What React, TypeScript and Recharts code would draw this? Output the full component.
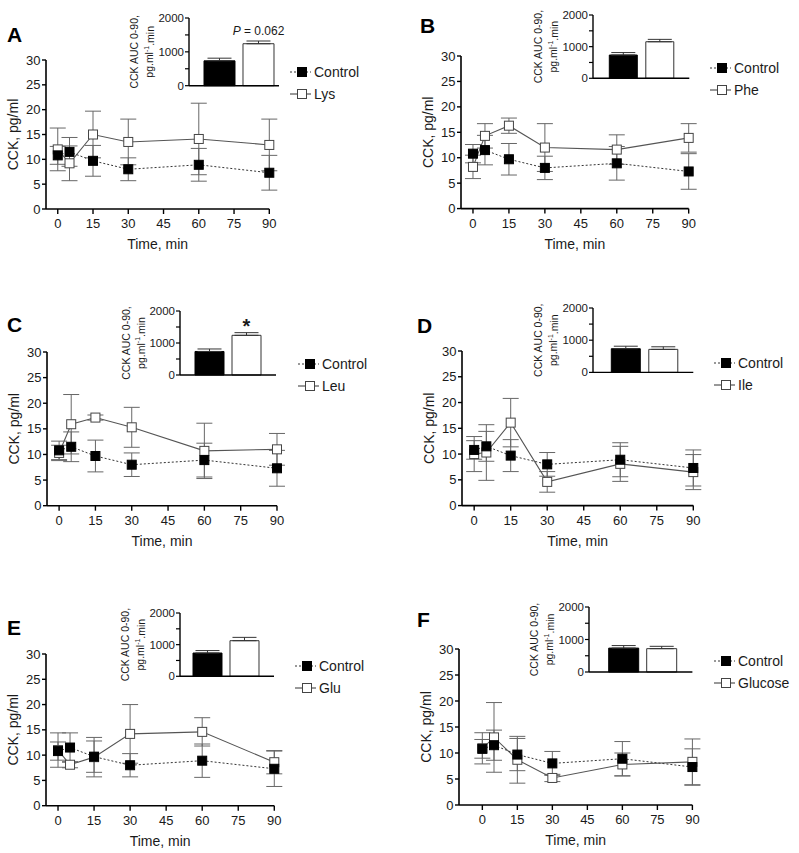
import React from 'react';
import {
  ComposedChart,
  Line,
  XAxis,
  YAxis,
  ErrorBar,
  BarChart,
  Bar,
  Cell,
  LabelList,
  Label,
} from 'recharts';

// plasma CCK time course, pg/ml (mean, SEM)
const TIMES = [0, 5, 15, 30, 60, 90];
const CONTROL = [10.8, 11.5, 9.7, 8.0, 8.9, 7.3];
const CONTROL_SEM = [1.8, 2.9, 3.1, 2.3, 3.3, 3.5];

const LYS = [12.0, 9.2, 15.0, 13.5, 14.1, 12.9];
const LYS_SEM = [4.3, 3.5, 4.7, 4.6, 7.2, 5.2];
const PHE = [8.2, 14.3, 16.3, 12.0, 11.6, 13.9];
const PHE_SEM = [2.3, 2.4, 1.5, 4.7, 2.9, 2.8];
const LEU = [10.3, 15.9, 17.2, 15.3, 10.7, 11.0];
const LEU_SEM = [1.5, 5.8, 0.5, 3.9, 5.4, 3.1];
const ILE = [10.0, 10.3, 16.1, 4.6, 8.1, 6.5];
const ILE_SEM = [3.4, 5.4, 4.7, 2.0, 3.4, 3.4];
const GLU = [11.0, 8.1, 9.6, 14.2, 14.6, 8.6];
const GLU_SEM = [3.4, 0.6, 3.9, 5.8, 2.8, 2.3];
const GLUCOSE = [10.9, 13.0, 8.7, 5.2, 7.8, 8.3];
const GLUCOSE_SEM = [3.0, 6.7, 4.5, 0.7, 2.2, 4.4];

const PANEL_LETTERS = ['A', 'B', 'C', 'D', 'E', 'F'];
const TREATMENTS = ['Lys', 'Phe', 'Leu', 'Ile', 'Glu', 'Glucose'];
const TREAT_VALUES = [LYS, PHE, LEU, ILE, GLU, GLUCOSE];
const TREAT_SEMS = [LYS_SEM, PHE_SEM, LEU_SEM, ILE_SEM, GLU_SEM, GLUCOSE_SEM];

// AUC 0-90 insets
const AUC_CONTROL = 735;
const AUC_CONTROL_SEM = 78;
const AUC_TREAT = [1240, 1155, 1240, 715, 1125, 718];
const AUC_TREAT_SEM = [80, 75, 83, 80, 105, 72];
const AUC_NOTES = ['P = 0.062', '', '*', '', '', ''];

const X_TICKS = [0, 15, 30, 45, 60, 75, 90];
const Y_TICKS = [0, 5, 10, 15, 20, 25, 30];
const AUC_TICKS = [0, 500, 1000, 1500, 2000];

// page layout (px)
const MAIN_BOX = [
  { left: 46, top: 60.3, right: 269.3, bottom: 209.3, xMin: -5 },
  { left: 461, top: 55.7, right: 688.7, bottom: 208.3, xMin: -5 },
  { left: 46.7, top: 352.3, right: 276.7, bottom: 506, xMin: -5 },
  { left: 462, top: 350.7, right: 693.3, bottom: 505.3, xMin: -5 },
  { left: 45.7, top: 654, right: 274, bottom: 805.7, xMin: -5 },
  { left: 459.3, top: 649, right: 692.7, bottom: 805, xMin: -10 },
];
const INSET_BOX = [
  { left: 189, top: 18.3, right: 279, bottom: 86, pl: 11, pr: 1 },
  { left: 592.7, top: 15, right: 689, bottom: 78.3, pl: 12.3, pr: 11 },
  { left: 180, top: 311, right: 276, bottom: 375, pl: 11, pr: 11 },
  { left: 592.7, top: 308.3, right: 693, bottom: 372.7, pl: 14.3, pr: 11 },
  { left: 180, top: 612.7, right: 274, bottom: 676, pl: 9, pr: 11 },
  { left: 589.3, top: 606.7, right: 692.7, bottom: 671.7, pl: 15.7, pr: 11.7 },
];
const LETTER_POS = [
  [7, 42],
  [420, 33],
  [7, 332],
  [417, 333],
  [7, 635],
  [417, 627],
];

const INK = '#1a1a1a';
const FONT = '"Liberation Sans", Arial, Helvetica, sans-serif';

const square = (fill: string, stroke: string) => (p: any) => {
  if (p.cx == null || p.cy == null) return <g key={`e-${p.index}`} />;
  return (
    <rect
      key={`sq-${p.index}`}
      x={p.cx - 4.5}
      y={p.cy - 4.5}
      width={9}
      height={9}
      fill={fill}
      stroke={stroke}
      strokeWidth={1}
    />
  );
};

function TimeCourse({ i }: { i: number }) {
  const b = MAIN_BOX[i];
  const rows = TIMES.map((t, k) => ({
    t,
    ctrl: CONTROL[k],
    ctrlErr: CONTROL_SEM[k],
    trt: TREAT_VALUES[i][k],
    trtErr: TREAT_SEMS[i][k],
  }));
  const YW = 66;
  const MT = 10;
  const MR = 12;
  const MB = 8;
  const XH = 40;
  const w = YW + (b.right - b.left) + MR;
  const h = MT + (b.bottom - b.top) + XH + MB;
  return (
    <div style={{ position: 'absolute', left: b.left - YW, top: b.top - MT }}>
      <ComposedChart width={w} height={h} data={rows} margin={{ top: MT, right: MR, left: 0, bottom: MB }}>
        <XAxis
          dataKey="t"
          type="number"
          domain={[b.xMin, 90]}
          ticks={X_TICKS}
          height={XH}
          tickSize={5}
          tickMargin={5}
          axisLine={{ stroke: '#000', strokeWidth: 1.6 }}
          tickLine={{ stroke: '#000', strokeWidth: 1.4 }}
          tick={{ fill: INK, fontSize: 13 }}
        >
          <Label value="Time, min" position="insideBottom" offset={0} fill={INK} fontSize={14} />
        </XAxis>
        <YAxis
          domain={[0, 30]}
          ticks={Y_TICKS}
          width={YW}
          tickSize={4}
          tickMargin={1.5}
          axisLine={{ stroke: '#000', strokeWidth: 1.6 }}
          tickLine={{ stroke: '#000', strokeWidth: 1.4 }}
          tick={{ fill: INK, fontSize: 13 }}
        >
          <Label value="CCK, pg/ml" angle={-90} position="center" fill={INK} fontSize={14} />
        </YAxis>
        <Line
          dataKey="trt"
          stroke="#555"
          strokeWidth={1.1}
          dot={square('#fff', '#444')}
          activeDot={false}
          isAnimationActive={false}
        >
          <ErrorBar dataKey="trtErr" direction="y" width={8} stroke="#666" strokeWidth={1} />
        </Line>
        <Line
          dataKey="ctrl"
          stroke="#333"
          strokeWidth={1}
          strokeDasharray="2 2"
          dot={square('#000', '#000')}
          activeDot={false}
          isAnimationActive={false}
        >
          <ErrorBar dataKey="ctrlErr" direction="y" width={8} stroke="#666" strokeWidth={1} />
        </Line>
      </ComposedChart>
    </div>
  );
}

function AucAxisLabel(props: any) {
  const vb = props.viewBox || { x: 0, y: 0, width: 0, height: 0 };
  const ax = vb.x + vb.width;
  const cy = vb.y + vb.height / 2;
  const x1 = ax - 54;
  const x2 = ax - 39;
  return (
    <g>
      <text
        x={x1}
        y={cy}
        transform={`rotate(-90 ${x1} ${cy})`}
        textAnchor="middle"
        dominantBaseline="central"
        fontSize={10.5}
        fill={INK}
      >
        CCK AUC 0-90,
      </text>
      <text
        x={x2}
        y={cy}
        transform={`rotate(-90 ${x2} ${cy})`}
        textAnchor="middle"
        dominantBaseline="central"
        fontSize={10.5}
        fill={INK}
      >
        pg.ml
        <tspan dy={-4} fontSize={7}>
          -1
        </tspan>
        <tspan dy={4}>.min</tspan>
      </text>
    </g>
  );
}

function NoteLabel(p: any) {
  if (!p.value) return null;
  const cx = p.x + p.width / 2;
  if (p.value === '*') {
    return (
      <text x={cx} y={p.y - 2} textAnchor="middle" fontSize={20} fontWeight="bold" fill={INK}>
        *
      </text>
    );
  }
  const txt = String(p.value);
  return (
    <text x={cx} y={p.y - 9} textAnchor="middle" fontSize={12} fill={INK}>
      <tspan fontStyle="italic">{txt.slice(0, 1)}</tspan>
      {txt.slice(1)}
    </text>
  );
}

function AucInset({ i }: { i: number }) {
  const b = INSET_BOX[i];
  const rows = [
    { name: 'Control', v: AUC_CONTROL, e: [0, AUC_CONTROL_SEM], note: '' },
    { name: TREATMENTS[i], v: AUC_TREAT[i], e: [0, AUC_TREAT_SEM[i]], note: AUC_NOTES[i] },
  ];
  const YW = 70;
  const MT = 22;
  const MB = 16;
  const MR = 24;
  return (
    <div style={{ position: 'absolute', left: b.left - YW, top: b.top - MT }}>
      <BarChart
        width={YW + (b.right - b.left) + MR}
        height={MT + (b.bottom - b.top) + 1 + MB}
        data={rows}
        margin={{ top: MT, right: MR, left: 0, bottom: MB }}
        barCategoryGap={4}
      >
        <XAxis
          dataKey="name"
          tick={false}
          tickLine={false}
          height={1}
          padding={{ left: b.pl, right: b.pr }}
          axisLine={{ stroke: '#000', strokeWidth: 1.4 }}
        />
        <YAxis
          domain={[0, 2000]}
          ticks={AUC_TICKS}
          width={YW}
          tickSize={4}
          tickMargin={1}
          tickFormatter={(v: number) => (v % 1000 === 0 ? String(v) : '')}
          axisLine={{ stroke: '#000', strokeWidth: 1.4 }}
          tickLine={{ stroke: '#000', strokeWidth: 1.2 }}
          tick={{ fill: INK, fontSize: 11.5 }}
        >
          <Label content={AucAxisLabel} />
        </YAxis>
        <Bar dataKey="v" isAnimationActive={false}>
          {rows.map((r, k) => (
            <Cell key={r.name} fill={k === 0 ? '#000' : '#fff'} stroke={k === 0 ? '#000' : '#333'} strokeWidth={1} />
          ))}
          <ErrorBar dataKey="e" direction="y" width={12} stroke="#333" strokeWidth={1} />
          <LabelList dataKey="note" content={NoteLabel} />
        </Bar>
      </BarChart>
    </div>
  );
}

function SeriesLegend({ i }: { i: number }) {
  const b = MAIN_BOX[i];
  const entries = [
    { name: 'Control', fill: '#000', dash: '2 2' },
    { name: TREATMENTS[i], fill: '#fff', dash: undefined },
  ];
  return (
    <svg
      style={{ position: 'absolute', left: b.right + 21, top: b.top + 1 }}
      width={110}
      height={46}
    >
      {entries.map((e, k) => {
        const y = 11 + k * 22;
        return (
          <g key={e.name}>
            <line x1={0} x2={21} y1={y} y2={y} stroke="#333" strokeWidth={1} strokeDasharray={e.dash} />
            <rect x={7.5} y={y - 4.5} width={9} height={9} fill={e.fill} stroke={k === 0 ? '#000' : '#444'} />
            <text x={24} y={y + 5} fontSize={14} fill={INK}>
              {e.name}
            </text>
          </g>
        );
      })}
    </svg>
  );
}

export default function App() {
  return (
    <div
      style={{
        position: 'absolute',
        left: 0,
        top: 0,
        width: 799,
        height: 853,
        background: '#fff',
        fontFamily: FONT,
        overflow: 'hidden',
      }}
    >
      {PANEL_LETTERS.map((_, i) => (
        <React.Fragment key={i}>
          <TimeCourse i={i} />
          <AucInset i={i} />
          <SeriesLegend i={i} />
        </React.Fragment>
      ))}
      <svg style={{ position: 'absolute', left: 0, top: 0 }} width={799} height={853} pointerEvents="none">
        {PANEL_LETTERS.map((l, i) => (
          <text key={l} x={LETTER_POS[i][0]} y={LETTER_POS[i][1]} fontSize={21} fontWeight="bold" fill="#000">
            {l}
          </text>
        ))}
      </svg>
    </div>
  );
}
